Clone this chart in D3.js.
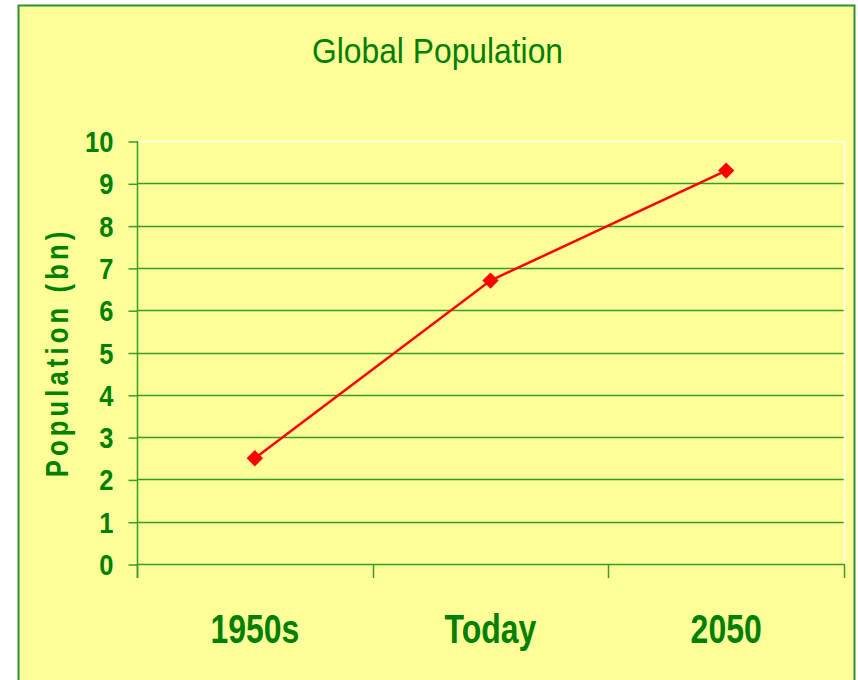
<!DOCTYPE html>
<html>
<head>
<meta charset="utf-8">
<script src="https://cdn.jsdelivr.net/npm/d3@7"></script>
<style>
  body { margin: 0; background: #fff; }
  svg { display: block; }
  text { font-family: "Liberation Sans", Arial, sans-serif; fill: #008000; }
</style>
</head>
<body>
<script>
//chart data
var categories = ['1950s', 'Today', '2050'];
var population = [2.5, 6.7, 9.3];
var yTicks = [0, 1, 2, 3, 4, 5, 6, 7, 8, 9, 10];

//svg dimensions
var width = 858,
    height = 680;

//plot area (window.top is read-only, so use other names)
var plotLeft = 137, plotRight = 844, plotTop = 141, plotBottom = 564;

var gridColor = '#3a9a28';

var svg = d3.select('body')
  .append('svg')
  .attr('width', width)
  .attr('height', height);

//yellow chart area with green border
svg.append('rect')
  .attr('x', 18.5)
  .attr('y', 5.5)
  .attr('width', 836)
  .attr('height', 690)
  .attr('fill', '#ffff99')
  .attr('stroke', '#2f8f2f')
  .attr('stroke-width', 2);

//title
svg.append('text')
  .attr('x', 312)
  .attr('y', 63)
  .attr('font-size', 35)
  .attr('textLength', 251)
  .attr('lengthAdjust', 'spacingAndGlyphs')
  .text('Global Population');

//scales
var x = d3.scaleBand()
  .domain(categories)
  .range([plotLeft, plotRight]);

var y = d3.scaleLinear()
  .domain([0, 10])
  .range([plotBottom, plotTop]);

//gridlines
svg.append('g')
  .selectAll('line')
  .data(yTicks.filter(function(d) { return d > 0 && d < 10; }))
  .enter().append('line')
  .attr('x1', plotLeft)
  .attr('x2', plotRight)
  .attr('y1', function(d) { return Math.round(y(d)) + 0.5; })
  .attr('y2', function(d) { return Math.round(y(d)) + 0.5; })
  .attr('stroke', gridColor)
  .attr('stroke-width', 1.5);

//white plot border on top and right
svg.append('path')
  .attr('d', 'M' + plotLeft + ',' + (plotTop + 0.5) + 'H' + (plotRight + 0.5) + 'V' + plotBottom)
  .attr('fill', 'none')
  .attr('stroke', '#ffffff')
  .attr('stroke-width', 1.5);

//y axis
var yAxis = svg.append('g')
  .attr('transform', 'translate(' + (plotLeft + 0.5) + ',0.5)')
  .call(d3.axisLeft(y).tickValues(yTicks).tickSize(9).tickPadding(0).tickFormat(d3.format('d')));

yAxis.select('.domain').remove();
yAxis.selectAll('.tick line').attr('stroke', gridColor).attr('stroke-width', 1.5);
yAxis.selectAll('.tick text')
  .attr('x', null)
  .attr('dy', null)
  .attr('transform', 'translate(-24,10) scale(0.88,1)')
  .attr('font-size', 29)
  .attr('font-weight', 'bold')
  .attr('fill', '#008000');

//vertical axis line
svg.append('line')
  .attr('x1', plotLeft + 0.5)
  .attr('x2', plotLeft + 0.5)
  .attr('y1', plotTop)
  .attr('y2', plotBottom + 14)
  .attr('stroke', gridColor)
  .attr('stroke-width', 1.5);

//x axis
var xAxis = svg.append('g')
  .attr('transform', 'translate(0,' + (plotBottom + 0.5) + ')')
  .call(d3.axisBottom(x).tickSize(0).tickFormat(''));

xAxis.select('.domain')
  .attr('d', 'M' + plotLeft + ',0H' + plotRight)
  .attr('stroke', gridColor)
  .attr('stroke-width', 1.5);
xAxis.selectAll('.tick').remove();

//category separators
svg.append('g')
  .selectAll('line')
  .data(categories.map(function(d) { return x(d); }).concat([plotRight]))
  .enter().append('line')
  .attr('x1', function(d) { return Math.round(d) + 0.5; })
  .attr('x2', function(d) { return Math.round(d) + 0.5; })
  .attr('y1', plotBottom)
  .attr('y2', plotBottom + 14)
  .attr('stroke', gridColor)
  .attr('stroke-width', 1.5);

//category labels
svg.append('g')
  .selectAll('text')
  .data(categories)
  .enter().append('text')
  .attr('transform', function(d) {
    return 'translate(' + (x(d) + x.bandwidth() / 2) + ',643) scale(0.78,1)';
  })
  .attr('text-anchor', 'middle')
  .attr('font-size', 41)
  .attr('font-weight', 'bold')
  .text(function(d) { return d; });

//y axis title: condensed glyphs, wide spacing
svg.append('text')
  .attr('transform', 'translate(68,' + ((plotTop + plotBottom) / 2 + 2) + ') rotate(-90) scale(0.8,1)')
  .attr('x', -307 / 2)
  .attr('font-size', 32)
  .attr('font-weight', 'bold')
  .attr('textLength', 307)
  .attr('lengthAdjust', 'spacing')
  .text('Population (bn)');

//series line
var line = d3.line()
  .x(function(d, i) { return x(categories[i]) + x.bandwidth() / 2; })
  .y(function(d) { return y(d); });

svg.append('path')
  .datum(population)
  .attr('d', line)
  .attr('fill', 'none')
  .attr('stroke', '#ff0000')
  .attr('stroke-width', 2.5);

//diamond markers
svg.append('g')
  .selectAll('path')
  .data(population)
  .enter().append('path')
  .attr('d', d3.symbol().type(d3.symbolDiamond2).size(170))
  .attr('transform', function(d, i) {
    return 'translate(' + (x(categories[i]) + x.bandwidth() / 2) + ',' + y(d) + ')';
  })
  .attr('fill', '#ff0000');
</script>
</body>
</html>
